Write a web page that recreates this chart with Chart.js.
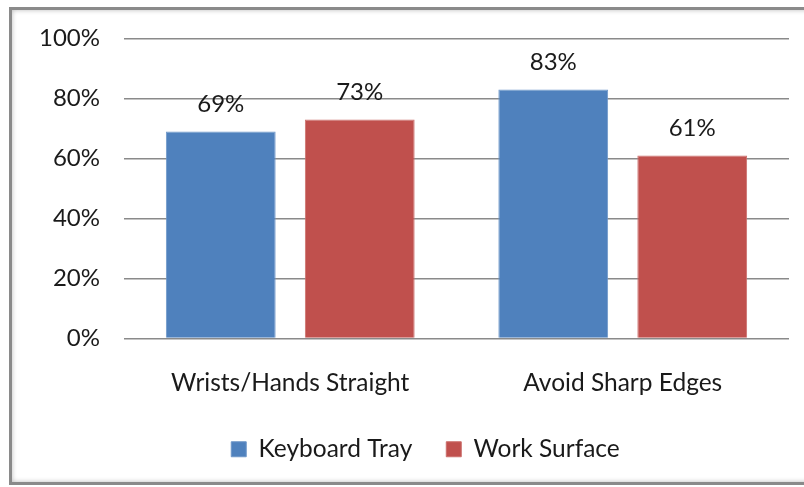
<!DOCTYPE html>
<html>
<head>
<meta charset="utf-8">
<script src="https://cdn.jsdelivr.net/npm/chart.js@4/dist/chart.umd.min.js"></script>
<style>
  html, body { margin:0; padding:0; background:#fff; overflow:hidden; }
  #wrap { position:relative; width:804px; height:487px; }
  /* cadre gris autour du graphique */
  #frame {
    position:absolute; left:9px; top:7px; width:800px; height:472px;
    border:3px solid #8a8a8a; box-sizing:content-box;
    box-shadow: inset 0 0 5px rgba(0,0,0,0.28);
  }
  #chart { position:absolute; left:0; top:0; }
</style>
</head>
<body>
<div id="wrap">
  <div id="frame"></div>
  <canvas id="chart" width="804" height="487"></canvas>
</div>
<script>
// données
const categories = ['Wrists/Hands Straight', 'Avoid Sharp Edges'];
const keyboardTray = [69, 83];
const workSurface = [73, 61];
const yTicks = [0, 20, 40, 60, 80, 100];

const FONT = 'Lato, "Noto Sans", sans-serif';

// étiquettes de valeur au-dessus des barres
const valueLabels = {
  id: 'valueLabels',
  afterDatasetsDraw(chart) {
    const ctx = chart.ctx;
    ctx.save();
    ctx.font = '24px ' + FONT;
    ctx.fillStyle = '#1a1a1a';
    ctx.textAlign = 'center';
    ctx.textBaseline = 'middle';
    chart.data.datasets.forEach((ds, i) => {
      chart.getDatasetMeta(i).data.forEach((bar, j) => {
        ctx.fillText(ds.data[j] + '%', bar.x, bar.y - 27);
      });
    });
    ctx.restore();
  }
};

// décale un peu la légende vers la droite
const legendShift = {
  id: 'legendShift',
  afterLayout(chart) {
    const lg = chart.legend;
    lg.left += 31;
    lg.right += 31;
  }
};

new Chart(document.getElementById('chart').getContext('2d'), {
  type: 'bar',
  data: {
    labels: categories,
    datasets: [
      { label: 'Keyboard Tray', data: keyboardTray, backgroundColor: '#4F81BD', borderColor: '#6f97c9', borderWidth: 1 },
      { label: 'Work Surface', data: workSurface, backgroundColor: '#C0504D', borderColor: '#cc6f6c', borderWidth: 1 }
    ]
  },
  options: {
    responsive: false,
    animation: false,
    layout: { padding: { top: 38, right: 15, bottom: 15.5, left: 0 } },
    datasets: { bar: { categoryPercentage: 0.836, barPercentage: 0.79 } },
    plugins: {
      legend: {
        position: 'bottom',
        labels: {
          font: { family: FONT, size: 24.5 },
          color: '#1a1a1a',
          boxWidth: 15, boxHeight: 15,
          padding: 34
        }
      },
      tooltip: { enabled: false }
    },
    scales: {
      x: {
        grid: { display: false },
        border: { display: false },
        ticks: { font: { family: FONT, size: 24.5 }, color: '#1a1a1a', padding: 22 },
        afterFit(s) { s.height = 64.5; }
      },
      y: {
        min: 0, max: 100,
        afterBuildTicks(s) { s.ticks = yTicks.map(v => ({ value: v })); },
        grid: { color: '#8a8a8a', lineWidth: 1.5, drawTicks: false },
        border: { display: false },
        ticks: {
          font: { family: FONT, size: 24 }, color: '#1a1a1a', padding: 24,
          callback: v => v + '%'
        },
        afterFit(s) { s.width = 124; }
      }
    }
  },
  plugins: [valueLabels, legendShift]
});
</script>
</body>
</html>
